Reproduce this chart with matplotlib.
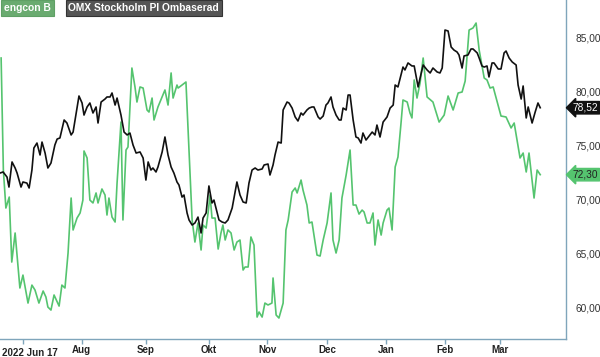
import matplotlib
matplotlib.use("Agg")
import matplotlib.pyplot as plt

plt.rcParams['font.family'] = ['Liberation Sans', 'DejaVu Sans']

# handelsdagar (index) och kurs
engcon_dag = [0.4, 1.2, 2.1, 3.3, 4.2, 5.4, 7.1, 8.2, 10.0, 11.4, 12.5, 13.9, 15.4, 16.4, 17.1, 18.2,
              19.3, 21.1, 22.1, 23.2, 24.3, 25.4, 26.1, 27.5, 28.6, 29.6, 30.0, 31.1, 32.1, 33.2, 34.3,
              35.0, 36.4, 37.5, 38.2, 38.9, 40.0, 41.1, 41.8, 43.2, 43.9, 45.0, 45.7, 47.1, 48.2, 48.9,
              50.0, 51.1, 52.5, 53.2, 54.3, 55.0, 56.4, 58.9, 60.0, 61.1, 61.8, 63.2, 63.6, 65.0, 66.4,
              68.6, 69.6, 70.7, 71.8, 72.5, 73.6, 74.3, 75.0, 75.7, 76.8, 77.9, 78.9, 79.6, 80.4, 81.4,
              82.5, 83.6, 84.6, 85.7, 86.8, 87.5, 88.6, 89.6, 90.7, 91.8, 92.5, 93.6, 94.6, 95.7, 97.1,
              97.5, 98.6, 99.6, 101.1, 102.1, 102.9, 104.3, 105.4, 106.1, 107.5, 108.2, 109.6, 110.4,
              111.4, 112.1, 113.2, 114.3, 115.4, 116.8, 118.2, 118.9, 120.0, 121.1, 122.1, 123.6, 125.0,
              126.1, 127.1, 128.2, 129.3, 130.0, 131.1, 132.1, 133.2, 133.9, 135.0, 136.1, 136.8, 138.2,
              138.9, 140.0, 141.1, 142.1, 143.2, 143.9, 145.4, 146.4, 147.1, 147.9, 148.9, 150.0, 151.1,
              152.5, 154.6, 156.8, 158.6, 160.0, 161.8, 163.6, 165.0, 166.1, 167.5, 168.9, 170.0, 171.1,
              172.9, 173.9, 175.0, 176.1, 178.9, 180.7, 182.5, 183.6, 185.7, 186.8, 187.9, 188.9, 190.7,
              191.8, 192.9]
engcon_kurs = [83.14, 72.73, 69.2, 70.22, 64.18, 66.88, 61.77, 62.97, 60.37, 62.04, 61.58, 60.37, 61.49,
               60.93, 60.0, 59.72, 61.12, 60.09, 62.04, 61.77, 65.02, 70.13, 67.16, 68.27, 68.74, 69.94,
               74.5, 73.85, 69.94, 69.67, 70.6, 69.67, 70.97, 70.41, 68.55, 70.13, 68.36, 67.9, 71.52,
               77.19, 68.09, 74.59, 74.87, 82.21, 80.45, 79.05, 80.45, 80.35, 78.31, 78.12, 79.42, 77.38,
               78.59, 80.17, 78.77, 81.75, 79.42, 80.63, 80.35, 80.63, 80.91, 68.09, 66.04, 67.81, 65.3,
               67.62, 67.34, 68.74, 70.41, 68.27, 68.27, 65.39, 66.88, 67.62, 66.23, 67.16, 66.88, 65.3,
               66.04, 66.23, 63.44, 63.72, 63.72, 66.51, 65.76, 59.07, 59.54, 59.07, 60.37, 60.19, 60.37,
               62.7, 59.26, 58.98, 60.37, 67.16, 68.09, 70.69, 71.06, 70.6, 71.8, 70.87, 69.48, 67.81,
               67.9, 66.69, 64.83, 64.74, 66.23, 67.81, 70.6, 66.23, 65.02, 66.23, 70.13, 72.27, 74.59,
               69.48, 69.48, 68.64, 69.01, 68.83, 67.81, 67.81, 68.74, 65.76, 68.09, 66.69, 67.81, 69.01,
               69.2, 67.16, 73.01, 73.94, 77.1, 79.24, 79.05, 78.03, 77.57, 81.1, 79.42, 80.82, 83.14,
               79.52, 79.05, 77.19, 77.84, 79.61, 78.31, 79.89, 79.98, 81.0, 85.74, 85.93, 86.39, 83.88,
               81.28, 81.1, 80.35, 80.45, 77.75, 77.66, 76.64, 77.1, 73.85, 74.31, 72.55, 74.31, 70.13,
               72.73, 72.30]

omx_dag = [0.0, 1.1, 2.5, 3.2, 4.3, 5.4, 6.1, 7.5, 8.2, 9.6, 10.4, 11.4, 12.1, 13.2, 14.3, 15.0, 16.1,
           17.1, 18.2, 19.6, 20.4, 21.4, 22.9, 23.9, 25.4, 26.1, 27.1, 28.2, 29.3, 30.0, 31.1, 32.1, 33.2,
           34.3, 35.0, 36.1, 37.5, 38.2, 39.3, 40.0, 41.1, 41.8, 43.2, 44.3, 45.4, 46.4, 47.5, 48.6, 50.0,
           51.1, 52.1, 52.9, 53.9, 54.6, 55.7, 56.4, 57.9, 58.9, 60.0, 61.1, 62.1, 63.2, 63.9, 65.0, 65.7,
           66.8, 67.5, 68.6, 69.6, 70.7, 71.8, 72.5, 73.6, 74.6, 75.7, 76.4, 77.5, 78.2, 79.3, 80.4, 81.4,
           82.9, 83.6, 84.6, 85.7, 86.8, 87.9, 88.9, 90.0, 91.1, 92.1, 93.6, 94.3, 95.7, 96.4, 97.5, 98.2,
           99.3, 100.4, 101.1, 102.5, 103.2, 104.3, 105.4, 106.4, 107.5, 108.2, 109.6, 110.4, 111.4, 112.1,
           113.6, 114.3, 115.4, 116.4, 117.1, 118.2, 118.9, 120.0, 121.1, 121.8, 122.5, 123.6, 124.3,
           125.0, 126.1, 127.1, 127.9, 128.9, 129.6, 130.7, 131.8, 132.9, 133.9, 134.6, 135.7, 136.8,
           138.2, 139.3, 140.4, 141.1, 142.1, 142.9, 143.9, 144.6, 145.7, 147.1, 147.9, 149.3, 150.0,
           151.1, 152.5, 153.6, 154.6, 156.1, 157.1, 157.9, 158.9, 160.0, 161.1, 162.1, 163.2, 163.9,
           165.0, 165.7, 167.1, 168.2, 168.9, 170.4, 171.1, 172.1, 172.9, 173.9, 174.6, 175.7, 176.4,
           177.9, 178.9, 180.0, 180.7, 181.8, 182.9, 184.3, 185.0, 186.1, 186.8, 187.9, 188.6, 190.0,
           191.1, 192.1, 192.9]
omx_kurs = [72.45, 72.55, 72.08, 71.15, 73.48, 72.92, 72.45, 71.15, 71.62, 71.52, 71.06, 72.73, 74.78,
            75.24, 74.13, 75.33, 74.31, 72.92, 73.38, 75.06, 75.61, 75.71, 77.38, 77.1, 75.99, 76.26,
            77.84, 79.61, 78.96, 77.84, 78.59, 78.96, 78.03, 78.59, 77.1, 79.05, 79.33, 79.52, 79.52,
            79.89, 78.77, 79.42, 77.84, 76.26, 75.99, 76.17, 75.06, 74.31, 74.41, 73.85, 71.8, 73.48,
            72.73, 72.92, 72.55, 73.01, 74.41, 75.8, 74.13, 73.01, 72.45, 71.62, 71.34, 70.22, 70.41,
            68.74, 68.09, 67.62, 67.81, 68.36, 66.88, 68.27, 68.74, 71.25, 69.67, 69.94, 68.83, 68.09,
            67.9, 67.81, 68.09, 69.2, 70.22, 71.62, 70.41, 69.76, 69.67, 71.52, 72.73, 72.92, 72.73,
            72.83, 73.2, 73.29, 72.27, 73.2, 74.13, 75.33, 75.24, 78.31, 79.05, 78.96, 78.49, 77.66,
            77.29, 78.03, 77.84, 78.31, 78.49, 78.59, 78.59, 77.66, 77.47, 77.75, 78.77, 78.96, 79.52,
            78.59, 77.84, 77.38, 77.38, 78.49, 78.31, 79.7, 79.7, 77.38, 75.8, 75.71, 75.24, 76.17,
            75.52, 75.89, 76.26, 75.99, 76.91, 75.8, 77.19, 77.66, 78.49, 78.77, 80.63, 80.45, 81.28,
            82.3, 82.03, 82.68, 82.4, 82.4, 80.45, 81.28, 82.49, 82.03, 81.75, 82.21, 81.84, 81.75,
            82.21, 85.74, 85.65, 84.16, 83.88, 83.7, 83.42, 82.21, 83.33, 83.42, 83.98, 83.98, 83.61,
            83.14, 82.4, 82.3, 82.4, 81.38, 82.68, 82.68, 82.12, 82.12, 83.61, 83.79, 83.14, 82.77,
            82.49, 80.63, 79.33, 80.54, 77.57, 78.59, 77.1, 78.12, 78.96, 78.52]

x_ticks = [8.3, 29.2, 52.0, 74.5, 95.4, 116.8, 138.0, 158.9, 178.4]
x_labels = ['', 'Aug', 'Sep', 'Okt', 'Nov', 'Dec', 'Jan', 'Feb', 'Mar']
y_ticks = [60, 65, 70, 75, 80, 85]

gron = '#55c46f'
ram = '#7fa5bb'

fig = plt.figure(figsize=(6, 3.57), dpi=100)
ax = fig.add_axes([0.0, 0.0504, 0.9433, 0.9496])

ax.plot(engcon_dag, engcon_kurs, color=gron, lw=1.2)
ax.plot(omx_dag, omx_kurs, color='#111111', lw=1.2)

ax.set_xlim(0, 202.1)
ax.set_ylim(57.03, 88.53)

for s in ['left', 'top']:
    ax.spines[s].set_visible(False)
for s in ['right', 'bottom']:
    ax.spines[s].set_color(ram)
    ax.spines[s].set_linewidth(1.0)

ax.set_xticks(x_ticks)
ax.set_xticklabels(x_labels, fontsize=7, fontweight='bold', color='#222222')
ax.tick_params(axis='x', length=3.6, width=1, color=ram, pad=0.5)

ax.yaxis.tick_right()
ax.set_yticks(y_ticks)
ax.set_yticklabels([f'{v:.2f}'.replace('.', ',') for v in y_ticks], fontsize=7.3, color='#333333')
ax.tick_params(axis='y', length=0, pad=7)

# första etiketten sitter inte centrerad på sitt streck
ax.text(10.8, -0.0265, '2022 Jun 17', transform=ax.get_xaxis_transform(), ha='center', va='top',
        fontsize=7, fontweight='bold', color='#222222')

# senaste värden vid högerkanten
ax.annotate(f'{omx_kurs[-1]:.2f}'.replace('.', ','), xy=(1.0, omx_kurs[-1]),
            xycoords=ax.get_yaxis_transform(), xytext=(5, 0), textcoords='offset points',
            ha='left', va='center', fontsize=7.3, color='white', annotation_clip=False,
            bbox=dict(boxstyle='larrow,pad=0.12', fc='#111111', ec='#111111'))
ax.annotate(f'{engcon_kurs[-1]:.2f}'.replace('.', ','), xy=(1.0, engcon_kurs[-1]),
            xycoords=ax.get_yaxis_transform(), xytext=(5, 0), textcoords='offset points',
            ha='left', va='center', fontsize=7.3, color='#222222', annotation_clip=False,
            bbox=dict(boxstyle='larrow,pad=0.12', fc=gron, ec=gron))

# förklaring överst
fig.text(0.007, 0.978, 'engcon B', ha='left', va='center', fontsize=7.4, fontweight='bold', color='white',
         bbox=dict(boxstyle='square,pad=0.28', fc='#6aab70', ec='#5fa065', lw=0.8))
fig.text(0.114, 0.978, 'OMX Stockholm PI Ombaserad', ha='left', va='center', fontsize=7.4,
         fontweight='bold', color='white',
         bbox=dict(boxstyle='square,pad=0.28', fc='#555555', ec='#333333', lw=0.8))

fig.savefig('out.png', dpi=100)
